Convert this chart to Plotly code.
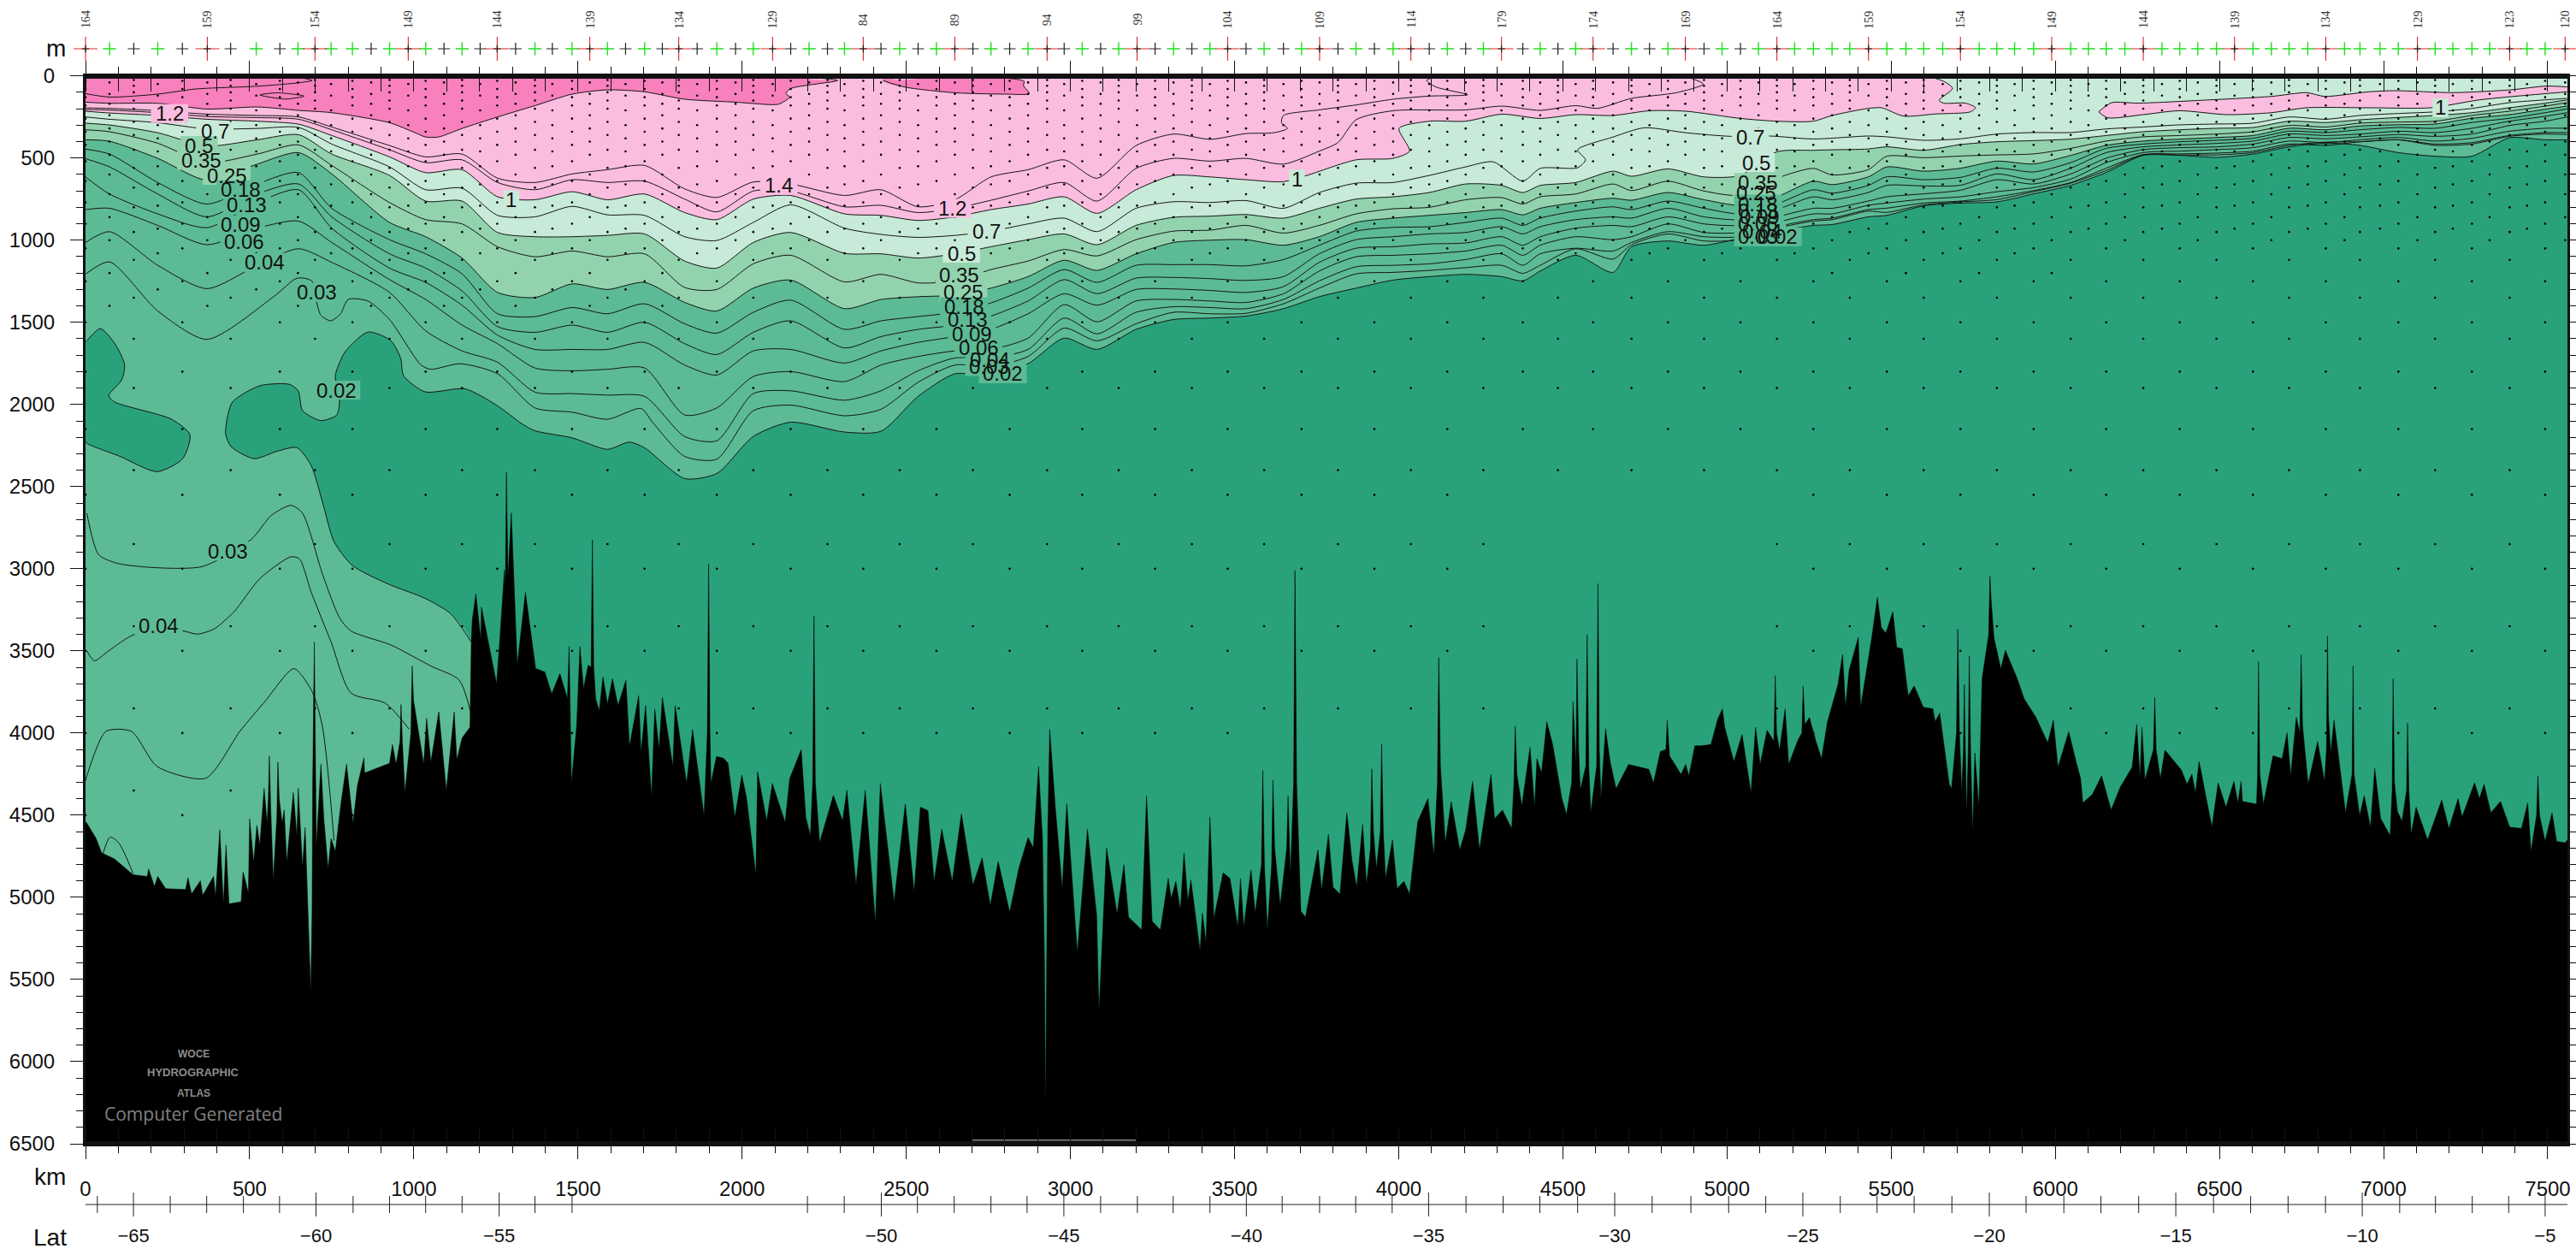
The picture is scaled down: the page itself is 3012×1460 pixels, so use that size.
import plotly.graph_objects as go

# ---------- colours ----------
C_DARKPINK = "#F880BC"; C_PINK = "#FBBDDF"; C_PALE = "#C8EAD8"
C_MED = "#92D3AE"; C_LOW = "#5CBB94"; C_BG = "#29A27C"

# ---------- shared distance columns (km) ----------
KM5 = [0,73,220,370,523,649,750,926,1036,1147,1255,1369,1482,1590,1703]
KM6 = [1825,1923,2034,2148,2312,2423,2536,2648,2758,2871,2981,3081,3200,3314,3425,3535,3649]
KM7 = [3758,3870,3983,4093,4204,4314,4378,4431,4539,4653,4709,4820,4930,5041,5152,5263,5320,5430]
KM3 = [5487,5599,5711,5822,5934,6047,6155,6267,6379,6491,6602,6712,6823,6928,7045,7157,7269,7383,7492,7559]
KM = KM5 + KM6 + KM7 + KM3

# ---------- contour depths (m) on the shared columns ----------
c050 = [288,299,346,427,389,358,476,606,762,762,953,979,979,971,962,
        1127,1170,1014,953,1080,1083,1109,1083,1040,997,962,1028,910,861,854,844,866,
        806,750,736,710,658,667,710,667,649,580,611,566,615,606,462,453,450,445,
        432,453,418,401,394,385,363,340,328,319,314,276,284,267,253,241,224,194,166,146]
c035 = [328,340,410,528,476,420,545,771,875,901,1040,1101,1066,1101,1083,
        1288,1300,1144,1092,1254,1208,1260,1248,1179,1127,1057,1096,997,945,939,910,957,
        910,840,809,800,754,741,780,736,719,658,698,641,701,727,623,563,603,571,
        489,498,488,481,475,441,397,371,363,354,340,302,311,288,281,276,241,215,184,163]
c025 = [389,398,502,636,537,467,597,892,979,1109,1318,1349,1266,1300,1257,
        1379,1431,1292,1243,1417,1361,1344,1335,1292,1222,1122,1184,1083,1014,1000,997,1031,
        979,892,866,849,832,814,846,806,771,745,757,710,754,788,736,641,662,615,
        554,580,562,519,536,484,423,397,385,375,363,319,328,305,297,293,258,236,203,184]
c018 = [446,476,649,780,658,589,806,997,1083,1205,1448,1465,1410,1448,1387,
        1509,1566,1439,1365,1543,1491,1465,1439,1382,1292,1179,1257,1153,1149,1149,1156,1118,
        1031,945,922,918,892,866,910,866,823,797,814,762,806,840,780,693,714,667,
        614,632,618,562,585,528,441,415,401,392,380,337,345,328,314,319,284,258,224,201]
c013 = [504,554,719,858,719,658,858,1083,1170,1309,1526,1561,1517,1561,1500,
        1630,1696,1561,1491,1656,1587,1543,1517,1462,1370,1240,1326,1231,1227,1234,1245,1222,
        1083,997,979,962,953,918,962,918,875,858,866,806,858,875,814,736,754,710,
        666,670,666,597,632,562,467,432,420,411,397,354,363,354,337,345,319,276,246,224]
c009 = [615,719,840,924,771,693,927,1170,1257,1396,1578,1665,1665,1665,1622,
        1760,1821,1674,1665,1748,1674,1622,1587,1543,1448,1326,1396,1300,1297,1306,1318,1283,
        1135,1049,1040,1023,1017,979,1031,979,927,910,918,858,901,910,858,806,806,762,
        736,718,696,632,658,597,501,449,437,432,415,375,383,371,357,368,354,302,276,250]
c006 = [814,806,910,1028,927,884,1014,1240,1361,1517,1630,1778,1795,1786,1778,
        2064,2021,1830,1800,1861,1760,1708,1674,1665,1596,1392,1497,1370,1361,1370,1379,1326,
        1188,1101,1092,1083,1066,1031,1092,1031,979,997,979,901,953,953,892,840,840,788,
        774,750,736,705,680,628,528,467,458,449,437,397,406,389,375,397,380,337,319,319]
c004 = [1014,948,1153,1295,1153,1052,1135,1318,1552,1674,1743,1925,1934,1943,1951,
        2195,2221,1934,1917,1974,1917,1795,1717,1717,1665,1474,1570,1439,1405,1410,1417,1361,
        1248,1162,1153,1144,1118,1083,1153,1083,1049,1066,1014,948,979,979,918,875,866,814,
        805,774,762,736,698,649,562,479,475,470,458,415,423,401,389,415,406,363,345,345]

# contours with folds, closures or their own course: (km, depth) readings
c003_left = [(1,1205),(73,1132),(220,1431),(370,1604),(573,1344),(645,1231),(689,1248),(705,1387),(717,1457),
             (747,1491),(777,1448),(800,1361),(860,1370),(926,1483),(1022,1760),(1052,1786),(1141,1752),(1255,1813),
             (1369,2021),(1482,2047),(1590,2090),(1692,2024),(1727,2108)]
c003_right = [2316,2333,2038,2004,2069,2029,1865,1760,1769,1708,1535,1613,1509,1439,1448,1445,1387,
              1292,1205,1196,1184,1167,1153,1202,1153,1052,1115,1028,962,1005,997,927,884,875,823,
              831,785,767,753,705,653,576,481,481,481,467,423,403,401,389,423,415,368,354,357]
c002_right = [2451,2420,2195,2108,2168,2163,1951,1813,1826,1752,1596,1665,1543,1483,1474,1462,1417,
              1344,1292,1243,1222,1208,1222,1248,1188,1092,1196,1040,1005,1031,988,945,910,905,858,
              849,791,774,767,718,666,588,484,484,496,476,432,409,423,467,489,489,377,389,389]
c002_left = [(1703,2264),(1656,2229),(1590,2273),(1482,2203),(1369,2160),(1329,2117),(1251,2003),(1156,1905),
             (1034,1923),(969,1825),(960,1719),(930,1612),(861,1559),(791,1679),(761,1825),(774,1971),(765,2064),
             (717,2098),(661,2037),(648,1918),(622,1878),(531,1886),(448,1984),(431,2090),(427,2184),(444,2258),
             (514,2330),(583,2285),(644,2263),(687,2370),(722,2595),(757,2835),(813,2980),(921,3092),(1034,3180),
             (1112,3273),(1175,3445)]
c002_lobe = [(0,1620),(4,1612),(45,1538),(88,1626),(119,1758),(110,1851),(71,1945),(88,1984),(262,2090),(318,2184),
             (296,2330),(218,2409),(105,2316),(4,2237),(0,2225)]

c160 = [(0,160),(73,167),(220,167),(370,202),(523,189),(649,210),(750,224),(926,285),(1004,346),(1036,372),(1075,372),
        (1147,320),(1255,250),(1369,181),(1482,111),(1590,85),(1703,97),(1825,142),(1980,160),(2088,175),(2112,172),
        (2145,129),(2133,108),(2148,77),(2291,28),(2196,7)]
c160_island = [(2429,28),(2495,68),(2650,103),(2806,111),(2875,108),(2857,59),(2859,33),(2818,16),(2600,4),(2450,8)]
c170_inner = [(0,108),(73,129),(220,111),(334,80),(523,63),(649,42),(690,28),(669,16)]
c170_oval = [(531,116),(585,103),(666,123),(609,141),(531,116)]

c140 = list(zip(KM5 + KM6[:15], [195,198,212,233,241,250,311,424,493,476,623,649,597,571,545,
                                 688,740,646,658,728,693,797,754,615,571,511,623,424,354,386])) + \
       [(3535,351),(3619,346),(3661,320),(3643,285),(3649,241),(3758,207),(3870,177),(3983,142),(4093,123),(4210,115),
        (4114,68),(4085,28),(4108,7)]
c120 = list(zip(KM5 + KM6, [205,208,224,247,254,264,328,450,528,511,649,693,632,649,641,
                            750,828,701,701,797,788,832,806,757,701,649,762,563,502,519,502,537])) + \
       [(3758,458),(3815,406),(3870,267),(3983,212),(4204,207),(4314,184),(4431,210),(4539,181),(4605,198),(4709,137),
        (4844,103),(4928,50),(4880,7)]
c100 = list(zip(KM5 + KM6, [215,226,241,264,276,294,363,493,589,571,736,754,705,754,719,
                            832,875,750,728,840,849,880,858,814,780,736,837,693,606,615,632,644])) + \
       [(3720,606),(3870,511),(3983,502),(4033,458),(4001,320),(4093,276),(4204,276),(4314,233),(4431,259),(4539,236),
        (4653,241),(4764,212),(4874,215),(5041,259),(5152,276),(5263,276),(5320,241),(5430,198),(5471,194),(5538,245),
        (5633,232),(5741,219),(5757,194),(5727,166),(5660,166),(5646,149),(5687,76),(5660,33),(5613,3)]
c100_island = [(6132,219),(6172,163),(6253,166),(6442,149),(6658,125),(6766,102),(6820,125),(6955,97),(7036,90),
               (7211,102),(7387,85),(7495,62),(7559,67),(7600,67),(7600,97),(7559,97),(7292,146),(7144,194),(6955,194),(6766,194),
               (6658,224),(6523,236),(6378,212),(6267,236),(6159,255),(6132,219)]
c070 = list(zip(KM5 + KM6, [250,264,285,323,320,314,415,554,693,684,849,858,794,846,849,
                            979,1002,892,785,927,965,983,971,945,901,866,948,806,766,771,759,806])) + \
       [(3758,710),(3870,653),(3983,649),(4093,606),(4204,554),(4288,523),(4378,641),(4431,563),(4545,559),(4569,511),
        (4545,450),(4653,372),(4748,316),(4874,346),(5011,368),(5131,366),(5263,384),(5430,366)] + \
       list(zip(KM3, [371,392,383,354,345,345,323,311,298,293,288,250,264,241,229,219,198,163,146,137]))

deep_003 = [(4,2662),(40,2914),(97,2967),(218,2994),(357,2986),(505,2821),(566,2675),(626,2614),(661,2662),(722,3034),
            (774,3299),(809,3379),(930,3464),(1052,3592),(1138,3677),(1173,3871)]
deep_004 = [(4,3499),(27,3560),(71,3499),(149,3400),(297,3379),(340,3398),(392,3366),(453,3260),(531,3060),(626,2927),
            (652,2941),(687,3140),(748,3446),(809,3757),(913,3818),(986,3977)]
deep_005 = [(0,4290),(4,4261),(62,3990),(140,3990),(218,4203),(366,4275),(470,3990),(548,3804),(635,3608),(691,3751),
            (722,3964),(757,4655)]
deep_006 = [(53,4734),(75,4633),(101,4668),(145,4854)]

# ---------- sea floor (km, depth) ----------
seafloor = [(0,4540),(4,4548),(32,4641),(49,4729),(88,4766),(145,4862),(188,4873),(192,4827),(210,4934),(220,4873),(244,4947),
 (305,4952),(312,4880),(323,4979),(350,4899),(357,4987),(390,4873),(396,4995),(409,4588),(420,5040),(428,4681),(437,5040),
 (474,5027),(480,4846),(496,4973),(500,4522),(512,4787),(522,4562),(531,4681),(544,4336),(553,4548),(560,4137),(572,4894),
 (586,4176),(599,4548),(605,4468),(613,4787),(633,4362),(644,4628),(648,4336),(661,4814),(669,4575),(680,5200),(686,5580),(690,5100),
 (697,3446),(703,4694),(717,4190),(726,4522),(739,4827),(748,4641),(761,4721),(778,4429),(795,4190),(815,4548),(828,4322),
 (848,4150),(850,4243),(926,4184),(935,4070),(946,4190),(961,3826),(973,4362),(995,3592),(1008,3911),(1030,4190),(1039,3911),
 (1052,4176),(1076,3871),(1099,4349),(1123,3871),(1131,4163),(1147,4030),(1171,3964),(1175,3459),(1178,3313),(1189,3153),
 (1204,3432),(1206,3233),(1252,3700),(1262,3432),(1276,3007),(1282,2413),(1287,3051),(1297,2660),(1315,3586),(1329,3319),(1340,3144),
 (1371,3607),(1399,3628),(1420,3761),(1445,3638),(1468,3792),(1473,3473),(1480,4307),(1496,3957),(1506,3473),(1517,3730),
 (1531,3586),(1544,2825),(1554,3792),(1565,3864),(1576,3658),(1590,3823),(1605,3669),(1622,3833),(1646,3679),(1657,4081),
 (1685,3772),(1692,4122),(1706,3833),(1724,4389),(1734,3854),(1747,4101),(1757,3782),(1789,4204),(1796,3833),(1831,4307),
 (1849,3978),(1866,4225),(1884,4503),(1898,2969),(1905,4307),(1922,4142),(1943,4153),(1957,4183),(1978,4513),(1999,4256),
 (2013,4389),(2042,4863),(2047,4235),(2075,4534),(2092,4307),(2131,4544),(2145,4276),(2180,4101),(2194,4513),(2208,4626),
 (2219,3288),(2236,4667),(2278,4379),(2306,4534),(2319,4348),(2347,4925),(2375,4348),(2406,5151),(2421,4307),(2463,5028),
 (2497,4431),(2524,4966),(2543,4451),(2566,4472),(2585,4904),(2608,4585),(2640,4904),(2668,4492),(2703,4925),(2731,4760),
 (2756,5048),(2780,4781),(2815,5090),(2843,4822),(2871,4636),(2887,4698),(2903,4204),(2915,4650),(2921,5400),(2924,6300),(2928,5300),(2931,4600),
 (2937,3978),(2954,4451),(2975,4945),(2989,4431),(3021,5336),(3052,4585),(3080,5110),(3087,5700),(3110,4698),(3142,5100),
 (3163,4801),(3177,5120),(3217,5198),(3232,4382),(3249,5146),(3274,5198),(3298,4885),(3307,5007),(3321,4903),(3335,5076),
 (3346,4729),(3358,5024),(3367,4894),(3395,5328),(3402,5094),(3413,5276),(3425,4512),(3437,5129),(3465,4851),(3486,4885),
 (3510,5181),(3518,4885),(3528,5181),(3550,4833),(3563,5094),(3586,4226),(3600,5198),(3617,4287),(3639,5050),(3663,4382),
 (3670,4868),(3684,3010),(3702,5085),(3716,5120),(3754,4712),(3765,4955),(3786,4616),(3800,4938),(3821,4981),(3842,4486),
 (3858,4781),(3872,4938),(3890,4556),(3902,4920),(3918,4217),(3932,4825),(3948,4066),(3960,4885),(3981,4651),(3995,4946),
 (4016,4903),(4033,4981),(4058,4538),(4089,4399),(4107,4747),(4122,3540),(4142,4668),(4160,4417),(4186,4712),(4204,4590),
 (4225,4295),(4246,4712),(4281,4252),(4292,4521),(4316,4469),(4344,4582),(4355,3957),(4375,4443),(4400,4087),(4414,4451),
 (4421,4156),(4435,4243),(4451,3931),(4469,4070),(4497,4399),(4511,4495),(4531,3809),(4543,3550),(4553,4347),(4574,3400),
 (4585,4486),(4607,3090),(4616,4399),(4630,3974),(4644,4174),(4662,4339),(4700,4191),(4762,4221),(4776,4304),(4797,4113),
 (4818,3922),(4825,4139),(4860,4252),(4874,4191),(4884,4261),(4902,4078),(4920,4078),(4951,4070),(4972,3913),(4986,3853),
 (4993,3965),(5021,4174),(5046,4009),(5073,4365),(5087,3965),(5101,4191),(5122,3983),(5147,3650),(5160,4104),(5177,3853),
 (5188,4191),(5216,4043),(5232,3714),(5251,3905),(5271,4052),(5288,4156),(5306,3931),(5338,3705),(5352,3522),(5361,3843),
 (5372,3617),(5400,3418),(5407,3843),(5441,3418),(5458,3175),(5470,3357),(5484,3392),(5505,3261),(5517,3479),(5534,3487),
 (5552,3774),(5570,3713),(5598,3843),(5627,3852),(5634,3930),(5648,3878),(5677,4312),(5684,4338),(5703,3366),(5715,4364),
 (5723,3704),(5730,4494),(5738,3531),(5748,4607),(5755,4121),(5767,4451),(5777,3669),(5801,3045),(5813,3418),(5834,3609),
 (5848,3496),(5863,3565),(5884,3669),(5905,3791),(5941,3904),(5977,4060),(5994,3921),(6008,4208),(6041,3991),(6063,4173),
 (6077,4277),(6084,4425),(6113,4373),(6141,4260),(6170,4468),(6198,4329),(6234,4208),(6248,3947),(6258,4277),(6264,3965),
 (6273,4286),(6303,3782),(6320,4277),(6334,4104),(6384,4225),(6401,4312),(6416,4251),(6427,4364),(6438,4173),(6477,4572),
 (6496,4303),(6520,4451),(6544,4294),(6556,4425),(6566,4294),(6570,4416),(6613,4433),(6619,3565),(6634,4433),(6663,4138),
 (6691,4156),(6706,3999),(6717,4260),(6734,3904),(6749,3522),(6770,4312),(6799,4051),(6820,4294),(6829,3409),(6839,4121),
 (6849,3921),(6884,4485),(6907,3591),(6927,4503),(6941,4381),(6960,4572),(6973,4216),(6991,4520),(7020,4624),(7029,3669),
 (7042,4477),(7056,4537),(7073,3939),(7084,4616),(7099,4451),(7134,4650),(7177,4407),(7199,4581),(7227,4399),(7239,4511),
 (7277,4303),(7292,4399),(7306,4312),(7327,4485),(7356,4416),(7384,4572),(7420,4581),(7439,4425),(7449,4720),(7470,4260),
 (7492,4659),(7513,4485),(7527,4659),(7553,4668),(7560,4650)]
# flanks of the narrow seamounts, read separately
seafloor_flanks = [(692,4300),(701,4400),(1279,3100),(1540,3600),(1548,3600),(1894,4000),(1902,4000),(2215,4300),(2223,4300),
 (3680,4300),(3689,4300),(3582,4800),(3591,4800),(3613,4800),(3622,4700),(3659,4700),(3914,4700),(3923,4600),(3944,4600),(3953,4600),
 (4118,4300),(4127,4200),(4351,4300),(4360,4250),(4527,4300),(4540,4200),(4548,4100),(4570,4200),(4579,4200),(4603,4200),(4611,4100),
 (4814,4100),(4822,4050),(5143,4050),(5151,4000),(5228,4000),(5237,3950),(5797,3400),(5805,3200),(5699,4000),(5708,4000),(5720,4100),
 (5726,4100),(5735,4100),(5742,4100),(6299,4100),(6307,4100),(6616,4250),(6623,4250),(6745,4000),(6753,3950),(6826,4100),(6832,3900),
 (6904,4250),(6910,4250),(7026,4350),(7033,4300),(7070,4350),(7077,4350),(7466,4500),(7475,4500),(557,4400),(564,4450),(583,4500),
 (590,4400),(991,4000),(999,3800),(958,4050),(965,4050)]
grey_floor_km = [2700, 3200]
grey_floor_depth = [6478, 6478]

# ---------- station track ----------
lon_km = [0,371,699,983,1254,1536,1807,2093,2369,2648,2929,3203,3479,3759,4037,4313,4592,4873,5152,5431,5711,5989,6268,6546,6824,7103,7384,7553]
lon_labels = [164,159,154,149,144,139,134,129,84,89,94,99,104,109,114,179,174,169,164,159,154,149,144,139,134,129,123,120]
green_km = [73,220,520,647,748,813,926,1036,1147,1369,1482,1590,1703,1923,2034,2204,2312,2480,2592,2758,2871,3036,3147,3314,3425,
            3590,3704,3870,3983,4148,4258,4431,4539,4709,4820,4985,5096,5206,5263,5320,5374,5487,5545,5599,5657,5768,5822,5876,5934,
            6047,6101,6155,6212,6325,6379,6434,6491,6602,6658,6712,6769,6881,6928,6989,7045,7157,7211,7269,7323,7437,7492]
black_km = [147,295,442,592,870,1092,1202,1310,1422,1645,1757,1863,1980,2148,2260,2423,2536,2703,2815,2981,3092,3258,3370,3535,3649,
            3815,3926,4093,4204,4378,4485,4653,4764,4930,5041]
# sample depths (m) read at typical stations
levels_a = [30,80,130,180,260,340,420,520,640,770,900,1050,1250,1500,1800,2150,2550,3000,3500,4000,4500]
levels_b = [40,110,170,240,320,400,480,600,720,860,1000,1200,1400,1650,1950,2300,2750,3250,3750,4250,4750]
levels_c = [25,60,100,150,200,280,360,450,560,680,800,950,1120,1350,1600,1900,2400,2850,3350,3850,4350]
levels_d = [50,120,210,300,380,460,550,660,790,930,1080,1300,1550,1750,2050,2450,2650,3100,3600,4100,4600]
reach_zone_km = [1800,3600,4300,5100,6000,7700]
reach_zone_m = [1500,1100,1000,1100,1200,1000]
reach_zone_deep_m = [5000,4200,3900,2400,4300,4000]

lat_major_km = [146,702,1260,2424,2980,3536,4091,4658,5231,5799,6367,6935,7492]
lat_major = ["−65","−60","−55","−50","−45","−40","−35","−30","−25","−20","−15","−10","−5"]
lat_minor_km = [36,258,369,481,591,815,926,1036,1147,1369,1482,2199,2311,2534,2646,2758,2868,3092,3204,3313,3425,3645,3759,3869,3980,
                4205,4318,4430,4545,4772,4890,5005,5118,5345,5457,5570,5685,5911,6026,6139,6254,6482,6595,6709,6823,7049,7158,7270,7381]

# ---------- contour labels ----------
label_text = ["1.2","0.7","0.5","0.35","0.25","0.18","0.13","0.09","0.06","0.04","0.03","0.02","1",
              "1.4","1.2","0.7","0.5","0.35","0.25","0.18","0.13","0.09","0.06","0.04","0.03","0.02","1",
              "0.7","0.5","0.35","0.25","0.18","0.13","0.09","0.06","0.04","0.03","0.02","1","0.03","0.04"]
label_km = [256,394,346,352,430,472,492,474,484,547,705,764,1297,
            2112,2641,2744,2668,2662,2674,2676,2686,2700,2720,2755,2752,2794,3690,
            5071,5089,5095,5090,5095,5095,5100,5095,5107,5095,5155,7173,435,223]
label_depth = [229,337,424,514,606,693,785,906,1009,1136,1318,1913,754,
               667,806,948,1080,1214,1318,1405,1483,1569,1653,1726,1769,1813,628,
               372,528,649,710,780,823,858,901,945,979,979,194,2893,3347]
label_bg = [C_PINK,C_PALE,C_MED,C_MED,C_MED,C_LOW,C_LOW,C_LOW,C_LOW,C_LOW,C_LOW,C_LOW,C_PALE,
            C_PINK,C_PINK,C_PALE,C_PALE,C_MED,C_MED,C_LOW,C_LOW,C_LOW,C_LOW,C_LOW,C_LOW,C_LOW,C_PALE,
            C_PALE,C_PALE,C_MED,C_MED,C_LOW,C_LOW,C_LOW,C_LOW,C_LOW,C_LOW,C_LOW,C_PALE,C_LOW,C_LOW]

FONT = "Liberation Sans"
fig = go.Figure()


def split(path):
    return [p[0] for p in path], [p[1] for p in path]


def poly(path, color, smooth=True):
    x, y = split(path)
    fig.add_trace(go.Scatter(x=x, y=y, mode="lines", fill="toself", fillcolor=color,
                             line=dict(width=0, color=color, shape="spline" if smooth else "linear", smoothing=0.7),
                             hoverinfo="skip", showlegend=False))


def contour(path, width=1.0):
    x, y = split(path)
    fig.add_trace(go.Scatter(x=x, y=y, mode="lines",
                             line=dict(width=width, color="#151515", shape="spline", smoothing=0.7),
                             hoverinfo="skip", showlegend=False))


FAR_T, FAR_L, FAR_R, FAR_B = -700, -300, 8000, 7200
c003 = c003_left + list(zip(KM6 + KM7 + KM3, c003_right))
c002_main = list(zip(KM6 + KM7 + KM3, c002_right))
c002_path = c002_main[::-1] + c002_left

# filled bands, painted from deepest to shallowest
poly([(FAR_L, FAR_T), (FAR_R, FAR_T), (FAR_R, FAR_B), (FAR_L, FAR_B), (FAR_L, FAR_T)], C_BG, smooth=False)
poly([(FAR_L, FAR_T), (FAR_R, FAR_T), (FAR_R, c002_right[-1])] + c002_path + [(1175, FAR_B), (FAR_L, FAR_B)], C_LOW)
poly([(-200, 1620)] + c002_lobe + [(-200, 2225)], C_BG)
for depths, color in ((c025, C_MED), (c050, C_PALE)):
    poly([(FAR_L, FAR_T), (FAR_L, depths[0])] + list(zip(KM, depths)) + [(FAR_R, depths[-1]), (FAR_R, FAR_T)], color)
poly([(FAR_L, FAR_T), (FAR_L, c100[0][1])] + c100 + [(5613, FAR_T)], C_PINK)
poly(c100_island, C_PINK)
poly([(FAR_L, FAR_T), (FAR_L, c160[0][1])] + c160 + [(2196, FAR_T)], C_DARKPINK)
poly([(2429, FAR_T)] + c160_island + [(2429, FAR_T)], C_DARKPINK)

# contour lines
for path in (c170_inner, c170_oval, c160, c140, c120, c100, c070, c100_island[:13], c100_island[15:], c160_island):
    contour(path)
for depths in (c050, c035, c025, c018, c013, c009, c006, c004):
    contour(list(zip(KM, depths)))
for path in (c003, c002_path, c002_lobe, deep_003, deep_004, deep_005, deep_006):
    contour(path)

# station sample dots
stations = sorted(lon_km + green_km + black_km)
level_sets = (levels_a, levels_b, levels_c, levels_d)
dot_x, dot_y = [], []
for i, km in enumerate(stations):
    zone = next(z for z, edge in enumerate(reach_zone_km) if km <= edge)
    reach = reach_zone_deep_m[zone] if i % 2 == 0 else reach_zone_m[zone]
    for lev in level_sets[i % 4]:
        if lev <= reach:
            dot_x.append(km)
            dot_y.append(lev)
fig.add_trace(go.Scatter(x=dot_x, y=dot_y, mode="markers", marker=dict(size=2.6, color="black"),
                         hoverinfo="skip", showlegend=False))

# sea floor
sf = sorted(seafloor + seafloor_flanks)
sf_x, sf_y = split(sf)
fig.add_trace(go.Scatter(x=[FAR_L] + sf_x + [FAR_R, FAR_R, FAR_L], y=[sf_y[0]] + sf_y + [sf_y[-1], FAR_B, FAR_B],
                         mode="lines", fill="toself", fillcolor="black", line=dict(width=0.5, color="black"),
                         hoverinfo="skip", showlegend=False))
fig.add_trace(go.Scatter(x=grey_floor_km, y=grey_floor_depth, mode="lines", line=dict(width=1.5, color="#8a8a8a"),
                         hoverinfo="skip", showlegend=False))

# top track: crosses on their own narrow axis
for kms, color, size, lw in ((green_km, "#22DD22", 11, 1.4), (black_km, "#222222", 10, 1.2),
                             (lon_km, "#E0262A", 20, 1.1), (lon_km, "#1c1c1c", 6, 1.2)):
    fig.add_trace(go.Scatter(x=kms, y=[57] * len(kms), yaxis="y3", mode="markers",
                             marker=dict(symbol="cross-thin", size=size, line=dict(width=lw, color=color)),
                             hoverinfo="skip", showlegend=False, cliponaxis=False))

# latitude rule on its own narrow axis
lat_x, lat_y = [0, 7560, None], [1408, 1408, None]
for k in lat_major_km:
    lat_x += [k, k, None]; lat_y += [1394, 1422, None]
for k in lat_minor_km:
    lat_x += [k, k, None]; lat_y += [1398, 1418, None]
fig.add_trace(go.Scatter(x=lat_x, y=lat_y, yaxis="y2", mode="lines", line=dict(width=1, color="#222222"),
                         hoverinfo="skip", showlegend=False, cliponaxis=False))
fig.add_trace(go.Scatter(x=lat_major_km, y=[1446] * len(lat_major_km), yaxis="y2", mode="text", text=lat_major,
                         textfont=dict(family=FONT, size=22, color="#111"), textposition="middle center",
                         hoverinfo="skip", showlegend=False, cliponaxis=False))

annots = []
for t, k, d in zip(label_text, label_km, label_depth):
    annots.append(dict(x=k, y=d, xref="x", yref="y", text=t, showarrow=False,
                       font=dict(family=FONT, size=24, color="#111")))
for k, t in zip(lon_km, lon_labels):
    annots.append(dict(x=k, y=23, xref="x", yref="y3", text=str(t), showarrow=False, textangle=-90,
                       font=dict(family="Liberation Serif", size=14, color="#333")))
PLOT_W = 2902.5


def page_note(text, x, y, family, size, color):
    annots.append(dict(x=(x - 99.5) / PLOT_W, y=1 - y / 1460, xref="paper", yref="paper", text=text, showarrow=False,
                       xanchor="center", yanchor="middle", font=dict(family=family, size=size, color=color)))


page_note("m", 65, 57, FONT, 28, "#111")
page_note("km", 58, 1375, FONT, 28, "#111")
page_note("Lat", 58, 1446, FONT, 28, "#111")
page_note("<b>WOCE</b>", 226, 1232, FONT, 12, "#8c8c8c")
page_note("<b>HYDROGRAPHIC</b>", 226, 1253, FONT, 13, "#8c8c8c")
page_note("<b>ATLAS</b>", 226, 1278, FONT, 12, "#8c8c8c")
page_note("Computer Generated", 226, 1302, "Open Sans", 21, "#808080")

shapes = []
for t, k, d, bg in zip(label_text, label_km, label_depth, label_bg):
    w = (len(t) * 12.5 + 6) / 0.3839
    h = 22 / 0.192
    shapes.append(dict(type="rect", xref="x", yref="y", x0=k - w / 2, x1=k + w / 2, y0=d - h / 2, y1=d + h / 2,
                       fillcolor=bg, line=dict(width=0), layer="above"))

PLOT_TOP, PLOT_BOTTOM, H = 88.7, 1337, 1460
fig.update_layout(
    width=3012, height=H, autosize=False, margin=dict(l=99.5, r=10, t=0, b=0, pad=0, autoexpand=False),
    paper_bgcolor="white", plot_bgcolor="white", showlegend=False, annotations=annots, shapes=shapes,
    font=dict(family=FONT, color="#111"),
    xaxis=dict(range=[0, 7560], anchor="y", domain=[0, 1], showgrid=False, zeroline=False, automargin=False,
               tick0=0, dtick=500, ticks="outside", ticklen=15, tickwidth=1, tickcolor="#111",
               minor=dict(dtick=100, ticks="outside", ticklen=8, tickwidth=1, tickcolor="#111", showgrid=False),
               showline=True, linewidth=3, linecolor="#111", mirror="allticks",
               tickfont=dict(family=FONT, size=24, color="#111"), ticklabelstandoff=14),
    yaxis=dict(range=[6500, 0], domain=[(H - PLOT_BOTTOM) / H, (H - PLOT_TOP) / H], anchor="x", showgrid=False, zeroline=False,
               automargin=False, tick0=0, dtick=500, ticks="outside", ticklen=15, tickwidth=1, tickcolor="#111",
               minor=dict(dtick=100, ticks="outside", ticklen=8, tickwidth=1, tickcolor="#111", showgrid=False),
               showline=True, linewidth=3, linecolor="#111", mirror="allticks",
               tickfont=dict(family=FONT, size=24, color="#111"), ticklabelstandoff=13),
    yaxis2=dict(range=[1460, PLOT_BOTTOM], domain=[0, (H - PLOT_BOTTOM) / H], anchor="x", visible=False, fixedrange=True, automargin=False),
    yaxis3=dict(range=[PLOT_TOP, 0], domain=[(H - PLOT_TOP) / H, 1], anchor="x", visible=False, fixedrange=True, automargin=False),
)

fig.write_html("out.html", config=dict(displayModeBar=False), post_script="document.body.style.margin='0';")
